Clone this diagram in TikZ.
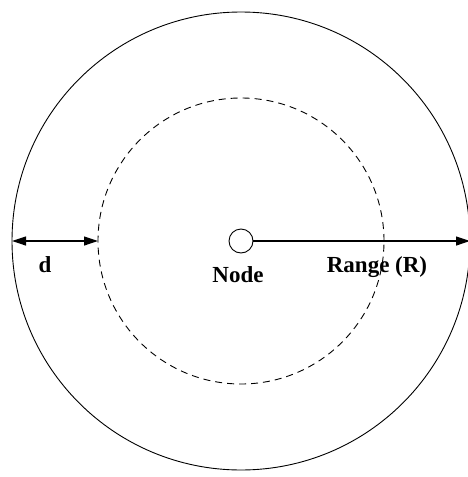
\documentclass[tikz,border=0pt]{standalone}
\usepackage{fontspec}
\setmainfont{Liberation Serif}
\usetikzlibrary{arrows.meta}
\begin{document}
\begin{tikzpicture}[x=1pt,y=-1pt,
  ring/.style={circle,draw,inner sep=0pt,outer sep=0pt,line width=0.9pt},
  lbl/.style={font=\fontsize{23}{27}\selectfont\bfseries,inner sep=0pt,anchor=base},
  dim/.style={line width=1.2pt,{Triangle[length=14pt,width=9pt]}-{Triangle[length=14pt,width=9pt]}},
  tip/.style={line width=1.2pt,-{Triangle[length=14pt,width=9pt]}}]
\useasboundingbox (0,0) rectangle (467,477);
\node[ring,minimum size=458pt] (outer) at (241,241) {};
\node[ring,dashed,dash pattern=on 7pt off 5pt,minimum size=286pt] (inner) at (241,241) {};
\node[ring,minimum size=24pt] (node) at (241,241) {};
\draw[tip] (node.east) -- (outer.east);
\draw[dim] (outer.west) -- (inner.west);
\node[lbl] (dl) at (45,272) {d};
\node[lbl] (nl) at (238,282) {Node};
\node[lbl] (rl) at (377,272) {Range (R)};
\end{tikzpicture}
\end{document}
